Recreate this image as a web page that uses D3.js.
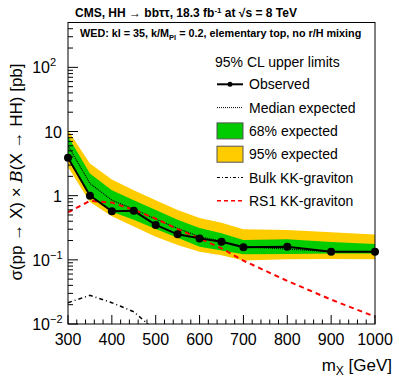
<!DOCTYPE html>
<html>
<head>
<meta charset="utf-8">
<script src="https://cdn.jsdelivr.net/npm/d3@7"></script>
<style>
body { margin: 0; background: #fff; }
svg { font-family: "Liberation Sans", Arial, sans-serif; }
</style>
</head>
<body>
<script>
// masses (GeV)
var masses = [300, 350, 400, 450, 500, 550, 600, 650, 700, 800, 900, 1000];
// 95% CL limits (pb)
var observed = [3.9, 1.0, 0.57, 0.58, 0.35, 0.25, 0.216, 0.191, 0.157, 0.160, 0.134, 0.134];
var expected = [6.0, 1.55, 0.85, 0.62, 0.43, 0.31, 0.229, 0.196, 0.160, 0.147, 0.134, 0.134];
var exp68lo = [4.0, 1.02, 0.56, 0.42, 0.302, 0.22, 0.160, 0.140, 0.122, 0.123, 0.125, 0.126];
var exp68hi = [8.4, 2.22, 1.22, 0.85, 0.597, 0.42, 0.313, 0.260, 0.203, 0.209, 0.19, 0.176];
var exp95lo = [2.8, 0.80, 0.48, 0.33, 0.229, 0.17, 0.134, 0.118, 0.098, 0.102, 0.103, 0.102];
var exp95hi = [10.5, 3.18, 1.79, 1.22, 0.85, 0.60, 0.448, 0.38, 0.299, 0.291, 0.27, 0.249];
// theory
var rs1 = [0.55, 0.83, 0.78, 0.60, 0.44, 0.30, 0.216, 0.151, 0.097, 0.047, 0.024, 0.013];
var bulkMass = [300, 350, 400, 450, 500, 550];
var bulk = [0.0215, 0.028, 0.0215, 0.0155, 0.0078, 0.0045];

var yTicks = [0.01, 0.1, 1, 10, 100];
var yTickLabels = ["10", "10", "1", "10", "10"];
var yTickExps = ["\u22122", "\u22121", "", "", "2"];

var width = 399, height = 383;
var svg = d3.select("body").append("svg")
    .attr("width", width)
    .attr("height", height);

var pLeft = 68, pRight = 375, pTop = 22.5, pBottom = 324;
var x = d3.scaleLinear().domain([300, 1000]).range([pLeft, pRight]);
var y = d3.scaleLog().domain([0.01, 500]).range([pBottom, pTop]);

svg.append("clipPath").attr("id", "plotclip")
    .append("rect").attr("x", pLeft).attr("y", pTop)
    .attr("width", pRight - pLeft).attr("height", pBottom - pTop);

var plot = svg.append("g").attr("clip-path", "url(#plotclip)");

function band(lo, hi) {
    return d3.area()
        .x(function(d, i) { return x(masses[i]); })
        .y0(function(d, i) { return y(lo[i]); })
        .y1(function(d, i) { return y(hi[i]); })(masses);
}

plot.append("path").attr("d", band(exp95lo, exp95hi)).attr("fill", "#ffcc00");
plot.append("path").attr("d", band(exp68lo, exp68hi)).attr("fill", "#00cc00");

var line = d3.line()
    .x(function(d) { return x(d[0]); })
    .y(function(d) { return y(d[1]); });

plot.append("path")
    .attr("d", line(d3.zip(masses, expected)))
    .attr("fill", "none").attr("stroke", "#000")
    .attr("stroke-width", 1.2).attr("stroke-dasharray", "1,1");

plot.append("path")
    .attr("d", line(d3.zip(masses, rs1)))
    .attr("fill", "none").attr("stroke", "#ff0000")
    .attr("stroke-width", 2).attr("stroke-dasharray", "5,4");

plot.append("path")
    .attr("d", line(d3.zip(bulkMass, bulk)))
    .attr("fill", "none").attr("stroke", "#000")
    .attr("stroke-width", 1.5).attr("stroke-dasharray", "4,3,1,3");

plot.append("path")
    .attr("d", line(d3.zip(masses, observed)))
    .attr("fill", "none").attr("stroke", "#000")
    .attr("stroke-width", 2);

svg.append("g").selectAll("circle")
    .data(d3.zip(masses, observed))
    .enter().append("circle")
    .attr("cx", function(d) { return x(d[0]); })
    .attr("cy", function(d) { return y(d[1]); })
    .attr("r", 4)
    .attr("fill", "#000");

// frame
svg.append("rect")
    .attr("x", pLeft).attr("y", pTop)
    .attr("width", pRight - pLeft).attr("height", pBottom - pTop)
    .attr("fill", "none").attr("stroke", "#000").attr("stroke-width", 1);

// x ticks (inward)
var xMinor = d3.range(300, 1001, 20);
svg.append("g").selectAll("line")
    .data(xMinor)
    .enter().append("line")
    .attr("x1", function(d) { return x(d); })
    .attr("x2", function(d) { return x(d); })
    .attr("y1", pBottom)
    .attr("y2", function(d) { return d % 100 === 0 ? pBottom - 9 : pBottom - 4.5; })
    .attr("stroke", "#000");

var xLabels = d3.range(300, 1001, 100);
svg.append("g").selectAll("text")
    .data(xLabels)
    .enter().append("text")
    .attr("x", function(d) { return x(d); })
    .attr("y", 345)
    .attr("text-anchor", "middle")
    .attr("font-size", 16)
    .text(function(d) { return d; });

// y ticks (inward)
var yMinor = [];
[0.01, 0.1, 1, 10, 100].forEach(function(dec) {
    for (var k = 1; k < 10; k++) {
        var v = dec * k;
        if (v <= 500) yMinor.push(v);
    }
});
svg.append("g").selectAll("line")
    .data(yMinor)
    .enter().append("line")
    .attr("x1", pLeft)
    .attr("x2", function(d, i) { return i % 9 === 0 ? pLeft + 10 : pLeft + 5; })
    .attr("y1", function(d) { return y(d); })
    .attr("y2", function(d) { return y(d); })
    .attr("stroke", "#000");

svg.append("g").selectAll("text")
    .data(yTicks)
    .enter().append("text")
    .attr("x", function(d, i) { return yTickExps[i] ? 50 : 62; })
    .attr("y", function(d) { return y(d) + 6; })
    .attr("text-anchor", "end")
    .attr("font-size", 16)
    .text(function(d, i) { return yTickLabels[i]; });

svg.append("g").selectAll("text")
    .data(yTicks)
    .enter().append("text")
    .attr("x", 50)
    .attr("y", function(d) { return y(d) - 1; })
    .attr("font-size", 11)
    .text(function(d, i) { return yTickExps[i]; });

// axis titles
var xt = svg.append("text")
    .attr("x", 392).attr("y", 371)
    .attr("text-anchor", "end")
    .attr("font-size", 17);
xt.append("tspan").text("m");
xt.append("tspan").attr("font-size", 12).attr("dy", 4).text("X");
xt.append("tspan").attr("dy", -4).text(" [GeV]");

var yt = svg.append("text")
    .attr("transform", "translate(22,172) rotate(-90)")
    .attr("text-anchor", "middle")
    .attr("font-size", 17);
yt.append("tspan").text("\u03c3(pp \u2192 X) \u00d7 ");
yt.append("tspan").attr("font-family", "'DejaVu Serif', serif").attr("font-style", "italic").text("B");
yt.append("tspan").text("(X \u2192 HH) [pb]");

// title
var title = svg.append("text")
    .attr("x", 75).attr("y", 17)
    .attr("font-size", 12).attr("font-weight", "bold");
title.append("tspan").text("CMS, HH \u2192 bb\u03c4\u03c4, 18.3 fb");
title.append("tspan").attr("font-size", 8).attr("dy", -4).text("-1");
title.append("tspan").attr("dy", 4).text(" at \u221as = 8 TeV");

var sub = svg.append("text")
    .attr("x", 80).attr("y", 37)
    .attr("font-size", 10.8).attr("font-weight", "bold");
sub.append("tspan").text("WED: kl = 35, k/M");
sub.append("tspan").attr("font-size", 7.5).attr("dy", 3).text("Pl");
sub.append("tspan").attr("dy", -3).text(" = 0.2, elementary top, no r/H mixing");

// legend
var legendNames = ["Observed", "Median expected", "68% expected", "95% expected", "Bulk KK-graviton", "RS1 KK-graviton"];
var lg = svg.append("g").attr("font-size", 14);
lg.append("text").attr("x", 215).attr("y", 66.5).text("95% CL upper limits");
var ly = function(i) { return 84.3 + i * 23.3; };
lg.selectAll("text.entry")
    .data(legendNames)
    .enter().append("text")
    .attr("class", "entry")
    .attr("x", 249)
    .attr("y", function(d, i) { return ly(i) + 5; })
    .text(function(d) { return d; });

lg.append("line").attr("x1", 217).attr("x2", 243).attr("y1", ly(0)).attr("y2", ly(0))
    .attr("stroke", "#000").attr("stroke-width", 2);
lg.append("circle").attr("cx", 230).attr("cy", ly(0)).attr("r", 2.5).attr("fill", "#000");
lg.append("line").attr("x1", 217).attr("x2", 243).attr("y1", ly(1)).attr("y2", ly(1))
    .attr("stroke", "#000").attr("stroke-width", 1).attr("stroke-dasharray", "1,1");
lg.append("rect").attr("x", 217).attr("y", ly(2) - 8).attr("width", 26).attr("height", 16)
    .attr("fill", "#00cc00").attr("stroke", "#555").attr("stroke-width", 1);
lg.append("rect").attr("x", 217).attr("y", ly(3) - 8).attr("width", 26).attr("height", 16)
    .attr("fill", "#ffcc00").attr("stroke", "#555").attr("stroke-width", 1);
lg.append("line").attr("x1", 217).attr("x2", 243).attr("y1", ly(4)).attr("y2", ly(4))
    .attr("stroke", "#000").attr("stroke-width", 1).attr("stroke-dasharray", "3,2,1,2");
lg.append("line").attr("x1", 217).attr("x2", 243).attr("y1", ly(5)).attr("y2", ly(5))
    .attr("stroke", "#ff0000").attr("stroke-width", 1.5).attr("stroke-dasharray", "4,3");
</script>
</body>
</html>
